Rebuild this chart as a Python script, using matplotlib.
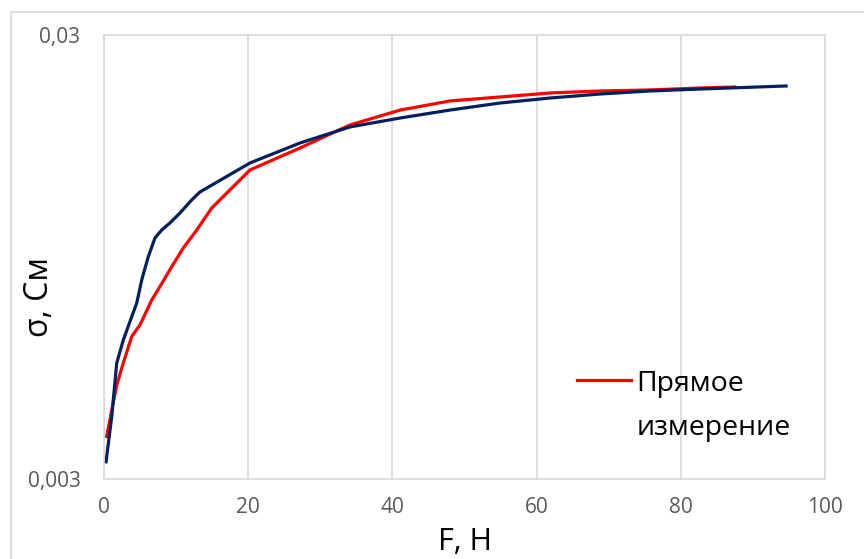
import numpy as np
import matplotlib
matplotlib.use("Agg")
import matplotlib.pyplot as plt
from matplotlib.patches import Rectangle
from matplotlib.legend_handler import HandlerLine2D

plt.rcParams['font.family'] = ['Open Sans', 'DejaVu Sans']

# --------------------------
# data
# --------------------------
f_red = [0.37, 1.76, 2.68, 3.84, 4.99, 6.62, 7.77, 9.39, 11.0, 12.86, 14.94,
         20.25, 27.2, 34.1, 41.1, 48.0, 54.9, 61.9, 68.8, 75.7, 82.7, 87.5]
s_red = [0.00374, 0.00488, 0.00548, 0.00628, 0.00667, 0.00759, 0.00814, 0.00902,
         0.00994, 0.01091, 0.01223, 0.01490, 0.01670, 0.01881, 0.02033, 0.02131,
         0.02175, 0.02221, 0.02244, 0.02256, 0.02279, 0.02291]

f_blue = [0.28, 1.07, 1.76, 2.68, 3.84, 4.54, 5.23, 6.14, 7.07, 8.0, 9.15, 10.54,
          12.16, 13.3, 20.25, 27.2, 34.1, 41.1, 48.0, 54.9, 61.9, 68.8, 75.7,
          82.7, 94.6]
s_blue = [0.00328, 0.00414, 0.00547, 0.00617, 0.00696, 0.00747, 0.00842, 0.00950,
          0.01047, 0.01091, 0.01132, 0.01192, 0.01275, 0.01329, 0.01545, 0.01714,
          0.01862, 0.01951, 0.02033, 0.02108, 0.02164, 0.02209, 0.02244, 0.02267,
          0.02303]

x_ticks = [0, 20, 40, 60, 80, 100]
y_ticks = [0.003, 0.03]
y_tick_labels = ["0,003", "0,03"]


# legend handle sits on the first line of a two-line label
class FirstLineHandler(HandlerLine2D):
    def create_artists(self, legend, orig_handle, xdescent, ydescent,
                       width, height, fontsize, trans):
        arts = super().create_artists(legend, orig_handle, xdescent, ydescent,
                                      width, height, fontsize, trans)
        for a in arts:
            a.set_ydata(np.asarray(a.get_ydata()) + 0.95 * fontsize)
        return arts


fig = plt.figure(figsize=(8.64, 5.59), dpi=100)
ax = fig.add_axes([104 / 864, 80 / 559, 721 / 864, 444 / 559])

# chart border like Excel
fig.patches.append(Rectangle((11 / 864, -0.1), 1.0, 0.1 + (559 - 12) / 559,
                             transform=fig.transFigure, fill=False,
                             edgecolor="#d9d9d9", linewidth=1.2))

red_line, = ax.plot(f_red, s_red, color="#ff0000", linewidth=2.3)
ax.plot(f_blue, s_blue, color="#002060", linewidth=2.3)

ax.set_yscale("log")
ax.set_xlim(0, 100)
ax.set_ylim(0.003, 0.03)
ax.set_xticks(x_ticks)
ax.set_yticks(y_ticks)
ax.set_yticklabels(y_tick_labels)
ax.yaxis.set_minor_locator(matplotlib.ticker.NullLocator())
ax.grid(axis="x", color="#d9d9d9", linewidth=1.2)
ax.set_axisbelow(True)
for sp in ax.spines.values():
    sp.set_color("#d9d9d9")
    sp.set_linewidth(1.2)
ax.tick_params(length=0, labelsize=15, labelcolor="#595959")
ax.tick_params(axis="y", pad=17)
ax.tick_params(axis="x", pad=13)

ax.set_xlabel("F, Н", fontsize=22)
ax.xaxis.set_label_coords(0.5, -0.108)
ax.set_ylabel("σ, См", fontsize=23)
ax.yaxis.set_label_coords(-0.066, 0.41)

leg = ax.legend([red_line], ["Прямое\nизмерение"], loc="upper left",
                bbox_to_anchor=(0.656, 0.245), frameon=False,
                fontsize=20.5, handlelength=1.9, handletextpad=0.18,
                borderpad=0, borderaxespad=0,
                handler_map={red_line: FirstLineHandler()})
for t in leg.get_texts():
    t.set_linespacing(1.75)

fig.savefig("out.png", dpi=100)
